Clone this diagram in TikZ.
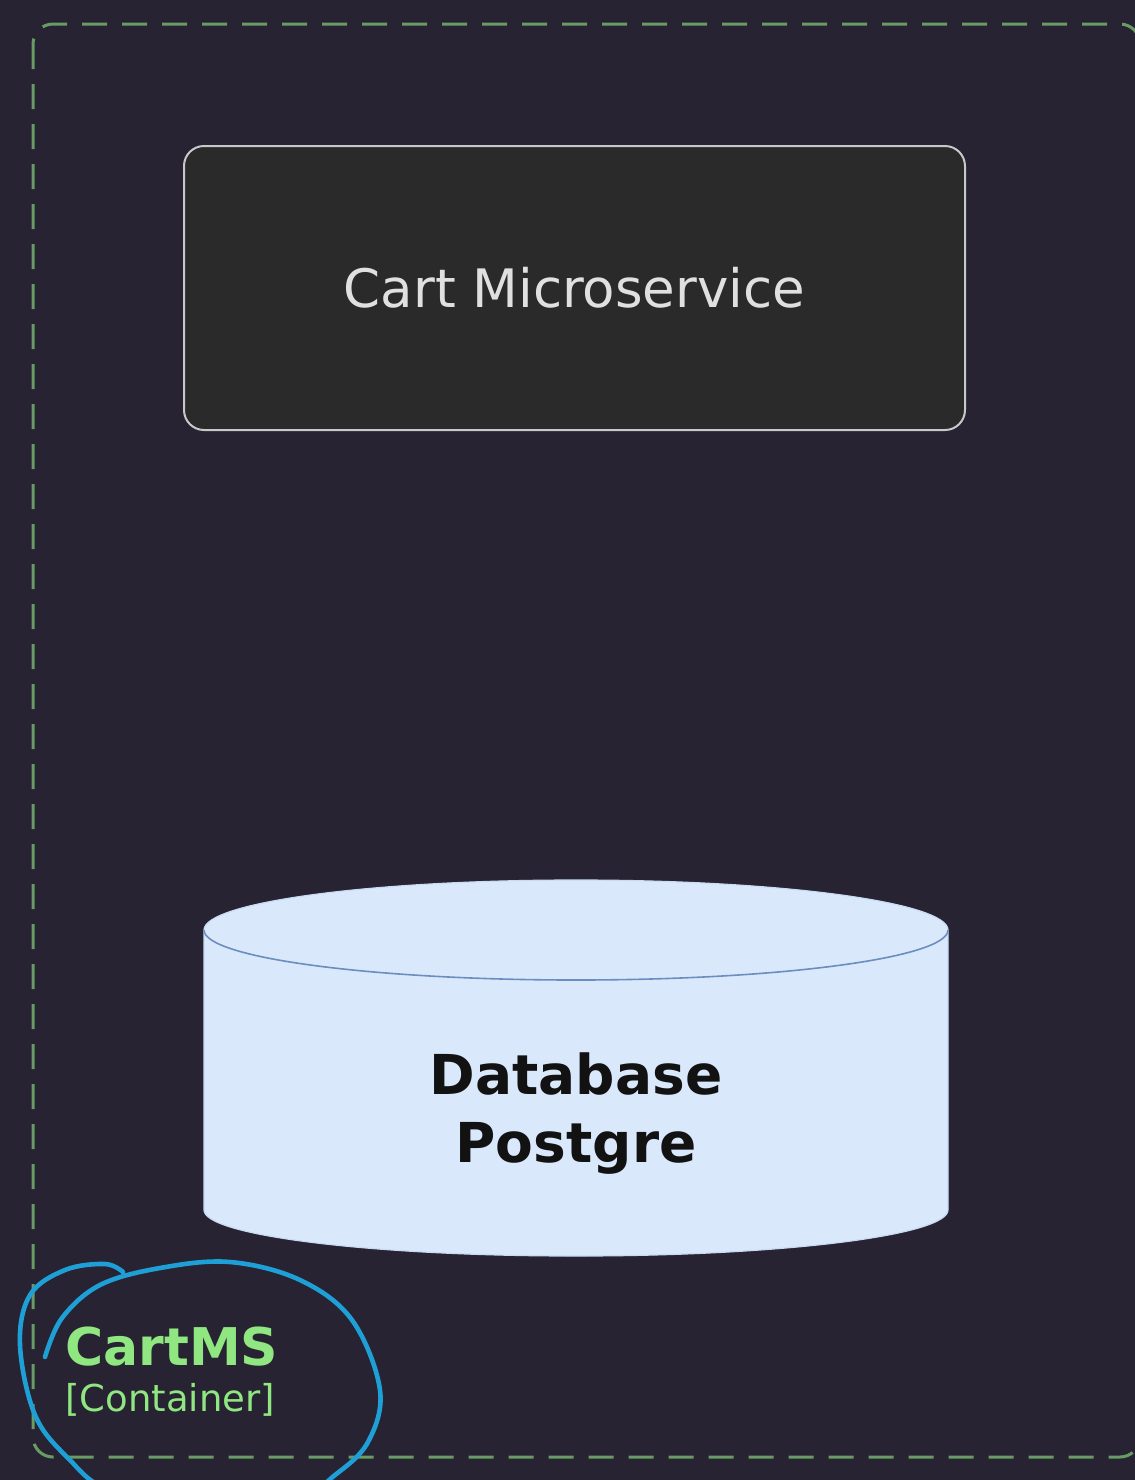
\documentclass[tikz,border=0pt]{standalone}
\usepackage{fontspec}
\setmainfont{DejaVu Sans}
\definecolor{bg}{RGB}{39,35,50}
\definecolor{grn}{RGB}{104,156,100}
\definecolor{lbl}{RGB}{144,230,128}
\definecolor{boxfill}{RGB}{42,42,42}
\definecolor{boxline}{RGB}{200,200,200}
\definecolor{dbfill}{RGB}{218,232,252}
\definecolor{dbline}{RGB}{108,142,191}
\definecolor{ink}{RGB}{30,160,215}
\begin{document}
\begin{tikzpicture}[x=0.5pt,y=-0.5pt,
  svcbox/.style={draw=boxline, fill=boxfill, line width=1pt, rounded corners=10pt,
    minimum width=390.5pt, minimum height=142pt, text=white!88!black,
    font=\fontsize{26.5pt}{32pt}\selectfont, inner sep=0pt},
  containerbox/.style={draw=grn, dash pattern=on 12.5pt off 7.5pt, line width=1.5pt, rounded corners=10pt},
  dbtext/.style={align=center, text=black!93, font=\bfseries\fontsize{27.5pt}{34pt}\selectfont},
  lbltext/.style={text=lbl, inner sep=0pt, anchor=base west}]
\useasboundingbox (0,0) rectangle (1135,1480);
\fill[bg] (0,0) rectangle (1135,1480);
\begin{scope}
\clip (0,0) rectangle (1135,1480);
% container boundary
\draw[containerbox] (33,24) rectangle (1140,1457);
% service box
\node[svcbox] (cms) at (574.5,288) {Cart Microservice};
% database cylinder
\draw[fill=dbfill, draw=dbfill!85!dbline, line width=0.6pt]
  (204,930) .. controls (204,902.4) and (370.5,880) .. (576,880)
  .. controls (781.5,880) and (948,902.4) .. (948,930)
  -- (948,1210) .. controls (948,1235.4) and (781.5,1256) .. (576,1256)
  .. controls (370.5,1256) and (204,1235.4) .. (204,1210) -- cycle;
\draw[dbline, line width=0.8pt]
  (204,930) .. controls (204,957.6) and (370.5,980) .. (576,980)
  .. controls (781.5,980) and (948,957.6) .. (948,930);
\node[dbtext] (db) at (576,1114) {Database\\Postgre};
% container label
\node[lbltext, font=\bfseries\fontsize{26pt}{30pt}\selectfont] (name) at (65,1365) {CartMS};
\node[lbltext, font=\fontsize{18.5pt}{22pt}\selectfont] (kind) at (65,1411) {[Container]};
% hand-drawn circle
\draw[ink, line width=2.3pt, line cap=round, line join=round] plot[smooth, tension=0.6] coordinates {
  (45,1357) (62,1318) (100,1285) (160,1268) (230,1262) (300,1280) (352,1320)
  (380,1390) (368,1442) (335,1475) (300,1495) (200,1502) (110,1490) (68,1458)
  (35,1415) (20,1345) (30,1295) (65,1270) (105,1264) (123,1272)};
\end{scope}
\end{tikzpicture}
\end{document}
